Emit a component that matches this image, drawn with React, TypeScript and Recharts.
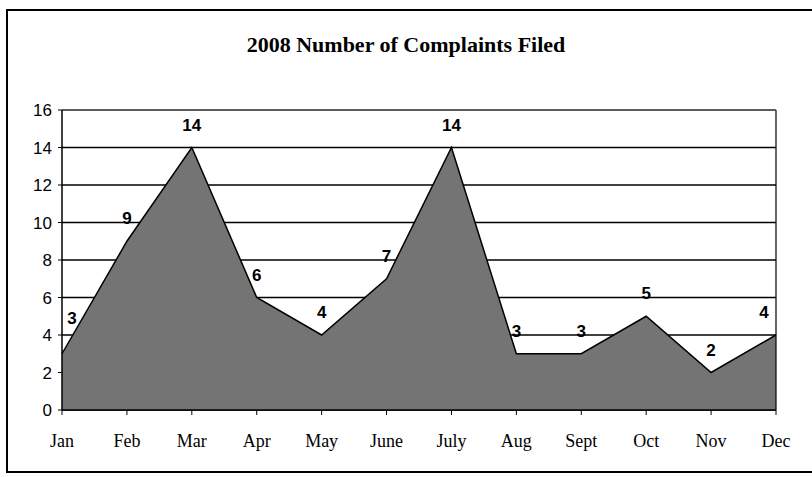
import React from 'react';
import { AreaChart, Area, XAxis, YAxis, CartesianGrid, LabelList, ReferenceLine } from 'recharts';

const months = ['Jan', 'Feb', 'Mar', 'Apr', 'May', 'June', 'July', 'Aug', 'Sept', 'Oct', 'Nov', 'Dec'];
const complaints = [3, 9, 14, 6, 4, 7, 14, 3, 3, 5, 2, 4];
const yTicks = [0, 2, 4, 6, 8, 10, 12, 14, 16];
const title = '2008 Number of Complaints Filed';

const data = months.map((m, i) => ({ month: m, value: complaints[i] }));

const serif = '"Liberation Serif", "Times New Roman", serif';
const sans = '"Liberation Sans", Arial, sans-serif';

const renderLabel = (props: any) => {
  const { x, y, value, index } = props;
  const first = index === 0;
  const last = index === complaints.length - 1;
  return (
    <text
      x={first ? x + 10 : last ? x - 12 : x}
      y={first ? y - 30 : y - 17}
      textAnchor="middle"
      fontFamily={sans}
      fontWeight="bold"
      fontSize={17}
      fill="#000"
    >
      {value}
    </text>
  );
};

export default function App() {
  return (
    <div style={{ position: 'absolute', left: 0, top: 0, width: 812, height: 477, background: '#fff', overflow: 'hidden' }}>
      <div
        style={{
          position: 'absolute',
          left: 6,
          top: 9,
          width: 840,
          height: 464,
          borderLeft: '2px solid #000',
          borderTop: '2px solid #000',
          borderBottom: '2px solid #000',
          borderRight: 'none',
          boxSizing: 'border-box',
        }}
      />
      <div
        style={{
          position: 'absolute',
          left: 0,
          width: 812,
          top: 32,
          textAlign: 'center',
          fontFamily: serif,
          fontWeight: 'bold',
          fontSize: 22,
          color: '#000',
        }}
      >
        {title}
      </div>
      <div style={{ position: 'absolute', left: 0, top: 0 }}>
        <AreaChart width={812} height={477} data={data} margin={{ top: 110, right: 36, bottom: 27, left: 10 }}>
          <CartesianGrid horizontal vertical={false} stroke="#000" strokeWidth={1.3} />
          <XAxis
            dataKey="month"
            axisLine={{ stroke: '#000', strokeWidth: 1.5 }}
            tickLine={{ stroke: '#000' }}
            tickSize={5}
            tickMargin={19}
            height={40}
            interval={0}
            tick={{ fontFamily: serif, fontSize: 18, fill: '#000' }}
          />
          <YAxis
            domain={[0, 16]}
            ticks={yTicks}
            interval={0}
            width={52}
            axisLine={{ stroke: '#000', strokeWidth: 1.5 }}
            tickLine={{ stroke: '#000' }}
            tickSize={4}
            tickMargin={6}
            tick={{ fontFamily: sans, fontSize: 17, fill: '#000' }}
          />
          <ReferenceLine x="Dec" stroke="#000" strokeWidth={1.2} />
          <ReferenceLine y={16} stroke="#666" strokeWidth={1.5} />
          <Area
            type="linear"
            dataKey="value"
            stroke="#000"
            strokeWidth={1.5}
            fill="#747474"
            fillOpacity={1}
            isAnimationActive={false}
          >
            <LabelList dataKey="value" content={renderLabel} />
          </Area>
        </AreaChart>
      </div>
    </div>
  );
}
